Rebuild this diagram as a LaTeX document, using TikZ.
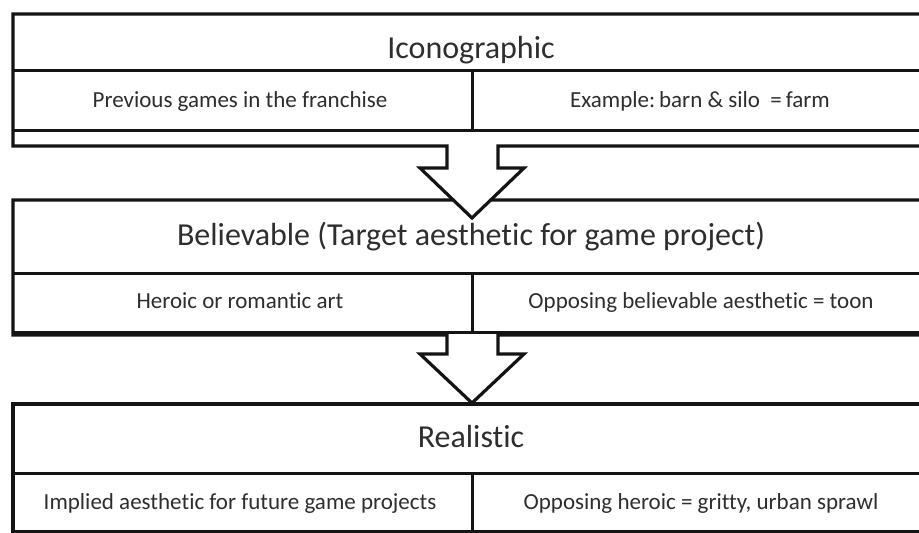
\documentclass[tikz,border=0pt]{standalone}
\usepackage{fontspec}
\setmainfont[Ligatures=NoCommon]{Carlito}
\definecolor{ln}{HTML}{141414}
\definecolor{tx}{HTML}{2E2E2E}
\begin{document}
\begin{tikzpicture}[x=1pt,y=-1pt,
  outline/.style={draw=ln, fill=white, line width=3.2pt, line join=miter},
  rule/.style={draw=ln, line width=3pt},
  headtext/.style={font=\fontsize{32}{38}\selectfont, text=tx, anchor=base, inner sep=0pt},
  subtext/.style={font=\fontsize{23}{28}\selectfont, text=tx, anchor=base, inner sep=0pt}]
\useasboundingbox[fill=white] (0,0) rectangle (919,533);
\clip (0,0) rectangle (919,533);

% ---- box 3 (Realistic) ----
\draw[outline] (13,404) rectangle (940,532);
\draw[rule] (13,473) -- (940,473);
\draw[rule] (472,473) -- (472,532);

% ---- box 2 (Believable) with down-arrow callout ----
\draw[outline] (13,200) -- (940,200) -- (940,335) -- (498,335) -- (498,354)
  -- (524,354) -- (472,403) -- (420,354) -- (447,354) -- (447,335)
  -- (13,335) -- cycle;
\draw[rule] (13,273) -- (940,273);
\draw[rule] (13,332) -- (940,332);
\draw[rule] (472,273) -- (472,332);

% ---- box 1 (Iconographic) with down-arrow callout ----
\draw[outline] (13,14) -- (940,14) -- (940,146) -- (498,146) -- (498,168)
  -- (524,168) -- (472,218) -- (420,168) -- (447,168) -- (447,146)
  -- (13,146) -- cycle;
\draw[rule] (13,70) -- (940,70);
\draw[rule] (13,130) -- (940,130);
\draw[rule] (472,70) -- (472,130);

% ---- texts ----
\node[headtext] (h1) at (471,58) {Iconographic};
\node[subtext] (l1) at (240,107) {Previous games in the franchise};
\node[subtext] (r1) at (700,107) {Example:\,barn \& silo \ =\,farm};

\node[headtext] (h2) at (471,245) {Believable (Target aesthetic for game project)};
\node[subtext] (l2) at (240,308) {Heroic or romantic art};
\node[subtext] (r2) at (701,308) {Opposing believable aesthetic = toon};

\node[headtext] (h3) at (471,447) {Realistic};
\node[subtext] (l3) at (240,509) {Implied aesthetic for future game projects};
\node[subtext] (r3) at (701,509) {Opposing heroic = gritty, urban sprawl};
\end{tikzpicture}
\end{document}
